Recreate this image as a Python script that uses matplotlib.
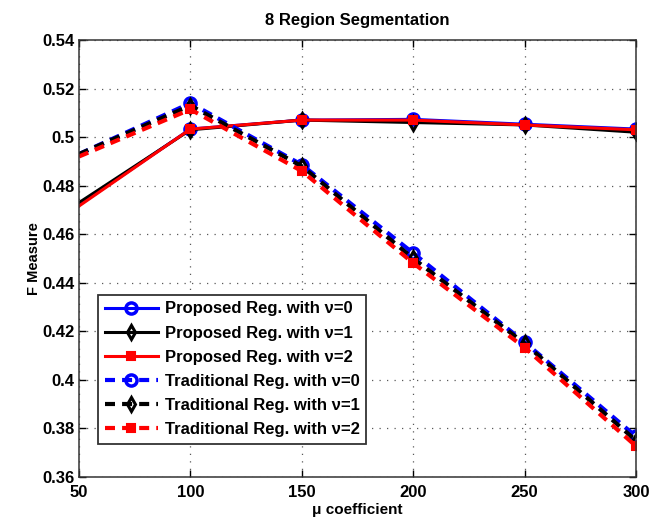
import matplotlib
matplotlib.use("Agg")
import matplotlib.pyplot as plt

plt.rcParams['font.family'] = ['Liberation Sans', 'DejaVu Sans']
plt.rcParams['font.weight'] = 'bold'

mu = [50, 100, 150, 200, 250, 300]
prop_v0 = [0.472, 0.5033, 0.507, 0.5073, 0.5053, 0.5033]
prop_v1 = [0.473, 0.5030, 0.507, 0.5060, 0.5050, 0.5020]
prop_v2 = [0.4716, 0.5033, 0.507, 0.5070, 0.5050, 0.5030]
trad_v0 = [0.493, 0.514, 0.4886, 0.4522, 0.4155, 0.3767]
trad_v1 = [0.493, 0.513, 0.4880, 0.4500, 0.4150, 0.3750]
trad_v2 = [0.492, 0.5114, 0.4860, 0.4481, 0.4133, 0.3727]

fig = plt.figure(figsize=(6.59, 5.26), dpi=100)
ax = fig.add_axes([0.1199, 0.0932, 0.8452, 0.8308])

# no markers at the left edge, like the reference
marks = list(range(1, len(mu)))
dash = (2.4, 1.7)
circle = dict(marker='o', ms=8, mfc='none', mew=2.5)
diamond = dict(marker='d', ms=7.5, mfc='none', mew=2.2)
square = dict(marker='s', ms=6, mfc='red', mew=1.5)

ax.plot(mu, prop_v0, '-', color='blue', lw=2.2, markevery=marks,
        label='Proposed Reg. with \u03bd=0', **circle)
ax.plot(mu, prop_v1, '-', color='black', lw=2.2, markevery=marks,
        label='Proposed Reg. with \u03bd=1', **diamond)
ax.plot(mu, prop_v2, '-', color='red', lw=2.2, markevery=marks,
        label='Proposed Reg. with \u03bd=2', **square)
ax.plot(mu, trad_v0, '--', dashes=dash, color='blue', lw=3, markevery=marks,
        label='Traditional Reg. with \u03bd=0', **circle)
ax.plot(mu, trad_v1, '--', dashes=dash, color='black', lw=3, markevery=marks,
        label='Traditional Reg. with \u03bd=1', **diamond)
ax.plot(mu, trad_v2, '--', dashes=dash, color='red', lw=3, markevery=marks,
        label='Traditional Reg. with \u03bd=2', **square)

ax.set_xlim(50, 300)
ax.set_ylim(0.36, 0.54)
ax.set_xticks(mu)
ax.set_xticklabels(['50', '100', '150', '200', '250', '300'])
ax.set_yticks([0.36, 0.38, 0.4, 0.42, 0.44, 0.46, 0.48, 0.5, 0.52, 0.54])
ax.set_yticklabels(['0.36', '0.38', '0.4', '0.42', '0.44', '0.46', '0.48', '0.5', '0.52', '0.54'])
ax.tick_params(direction='in', labelsize=12, length=5, width=1, top=True, right=True)
ax.tick_params(axis='x', pad=6)
ax.grid(True, linestyle=(0, (1, 5)), color='0.35', lw=0.9)
for s in ax.spines.values():
    s.set_linewidth(1.1)
    s.set_color('0.2')

ax.set_title('8 Region Segmentation', fontsize=12, fontweight='bold', pad=11)
ax.set_xlabel('\u03bc coefficient', fontsize=11, fontweight='bold', labelpad=2)
ax.set_ylabel('F Measure', fontsize=10.5, fontweight='bold', labelpad=1)

leg = ax.legend(loc='lower left', bbox_to_anchor=(0.034, 0.0755), borderaxespad=0,
                fontsize=12, frameon=True, fancybox=False, edgecolor='0.2', framealpha=1,
                handlelength=3.2, borderpad=0.4, labelspacing=0.55, handletextpad=0.4)
leg.get_frame().set_linewidth(1.3)

fig.savefig('out.png', dpi=100)
